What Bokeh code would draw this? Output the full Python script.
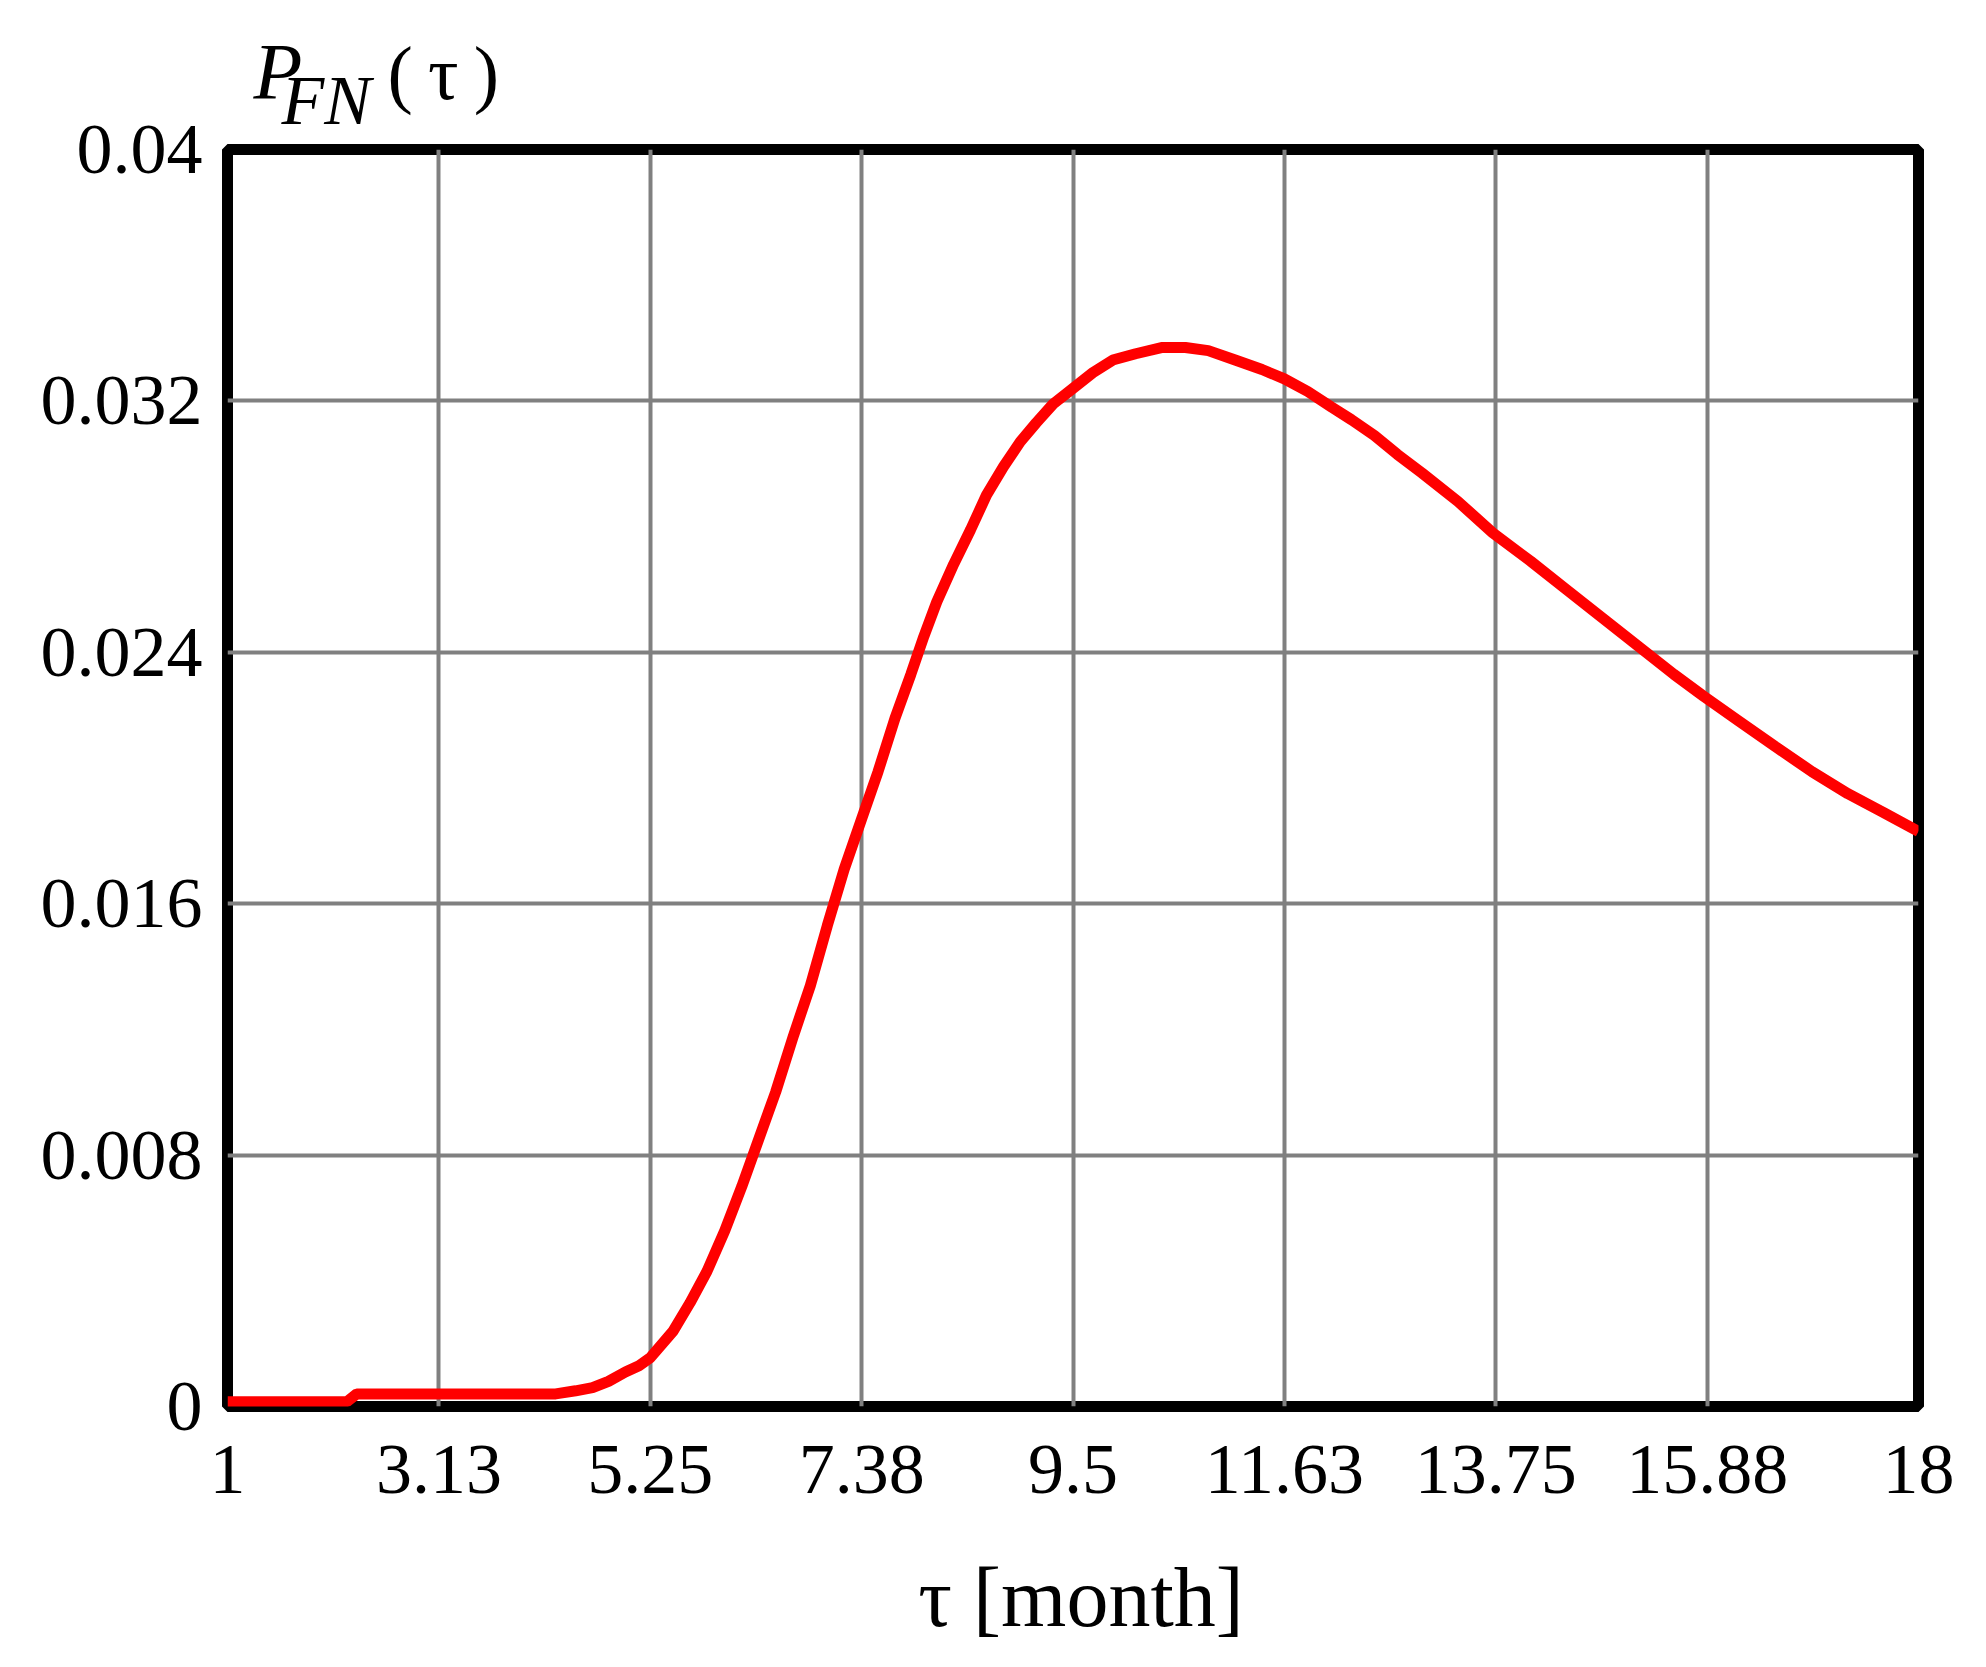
from bokeh.plotting import figure
from bokeh.models import Range1d, FixedTicker
from bokeh.core.properties import value
from bokeh.embed import file_html
from bokeh.resources import INLINE

# ---- data ----
tau = [1.0, 2.2, 2.3, 4.3, 4.5, 4.67, 4.83, 5.0, 5.137, 5.25,
       5.48, 5.65, 5.82, 6.0, 6.17, 6.34, 6.51, 6.69, 6.86, 7.03,
       7.2, 7.375, 7.54, 7.71, 7.87, 8.0, 8.13, 8.3, 8.47, 8.63,
       8.8, 8.97, 9.13, 9.3, 9.5, 9.7, 9.9, 10.13, 10.4, 10.63,
       10.86, 11.13, 11.4, 11.625, 11.86, 12.1, 12.3, 12.53, 12.76, 13.01,
       13.37, 13.72, 14.1, 14.46, 14.82, 15.18, 15.54, 15.84, 16.2, 16.56,
       16.93, 17.29, 17.65, 18.0]
p_fn = [0.00015, 0.00015, 0.0004, 0.0004, 0.0005, 0.0006, 0.0008, 0.0011, 0.0013, 0.00155,
        0.0024, 0.0033, 0.0043, 0.0056, 0.0070, 0.0085, 0.0100, 0.0118, 0.0134, 0.0153,
        0.0171, 0.0187, 0.0202, 0.0219, 0.0233, 0.0245, 0.0256, 0.0268, 0.0279, 0.0290,
        0.0299, 0.0307, 0.0313, 0.0319, 0.0324, 0.0329, 0.0333, 0.0335, 0.0337, 0.0337,
        0.0336, 0.0333, 0.0330, 0.0327, 0.0323, 0.0318, 0.0314, 0.0309, 0.0303, 0.0297,
        0.0288, 0.0278, 0.0269, 0.0260, 0.0251, 0.0242, 0.0233, 0.0226, 0.0218, 0.0210,
        0.0202, 0.0195, 0.0189, 0.0183]

x_ticks = [1, 3.125, 5.25, 7.375, 9.5, 11.625, 13.75, 15.875, 18]
x_tick_labels = ["1", "3.13", "5.25", "7.38", "9.5", "11.63", "13.75", "15.88", "18"]
y_ticks = [0, 0.008, 0.016, 0.024, 0.032, 0.04]
y_tick_labels = ["0", "0.008", "0.016", "0.024", "0.032", "0.04"]
x_title = "τ [month]"
y_title_main = "P"
y_title_sub = "FN"
y_title_arg = "(\u2009τ\u2009)"

X_MIN, X_MAX = 1, 18
Y_MIN, Y_MAX = 0, 0.04

FONT = "Liberation Serif"

p = figure(width=1970, height=1651, output_backend="svg", toolbar_location=None,
           x_range=Range1d(X_MIN, X_MAX), y_range=Range1d(Y_MIN, Y_MAX),
           min_border_left=227, min_border_right=52, min_border_top=149, min_border_bottom=245)

p.outline_line_color = "black"
p.outline_line_width = 11
p.background_fill_color = "white"
p.border_fill_color = "white"

p.line(tau, p_fn, line_color="#ff0000", line_width=11)

for ax in (p.xaxis[0], p.yaxis[0]):
    ax.axis_line_color = None
    ax.major_tick_line_color = None
    ax.minor_tick_line_color = None
    ax.major_tick_in = 0
    ax.major_tick_out = 0
    ax.major_label_text_font = FONT
    ax.major_label_text_font_size = "72px"
    ax.major_label_text_color = "black"

p.xaxis.ticker = FixedTicker(ticks=x_ticks)
p.yaxis.ticker = FixedTicker(ticks=y_ticks)
p.xaxis.major_label_overrides = {t: s for t, s in zip(x_ticks, x_tick_labels)}
p.yaxis.major_label_overrides = {t: s for t, s in zip(y_ticks, y_tick_labels)}
p.xaxis.major_label_standoff = 39
p.yaxis.major_label_standoff = 25

p.xgrid.ticker = FixedTicker(ticks=x_ticks)
p.ygrid.ticker = FixedTicker(ticks=y_ticks)
for g in (p.xgrid[0], p.ygrid[0]):
    g.grid_line_color = "#808080"
    g.grid_line_width = 4

# titles as unclipped text glyphs
def add_text(x, y, txt, size, dx, dy, style="normal", align="left"):
    p.text(x=[x], y=[y], text=[txt], text_font=value(FONT), text_font_style=style,
           text_font_size=size, text_color="black", text_align=align,
           text_baseline="alphabetic", x_offset=dx, y_offset=dy, level="overlay")

add_text(X_MIN, Y_MAX, y_title_main, "80px", 26, -78, style="italic")
add_text(X_MIN, Y_MAX, y_title_sub, "70px", 54, -49, style="italic")
add_text(X_MIN, Y_MAX, y_title_arg, "76px", 160, -77)
add_text((X_MIN + X_MAX) / 2, Y_MIN, x_title, "84px", 8, 191, align="center")

open("out.html", "w").write(file_html(p, INLINE))
